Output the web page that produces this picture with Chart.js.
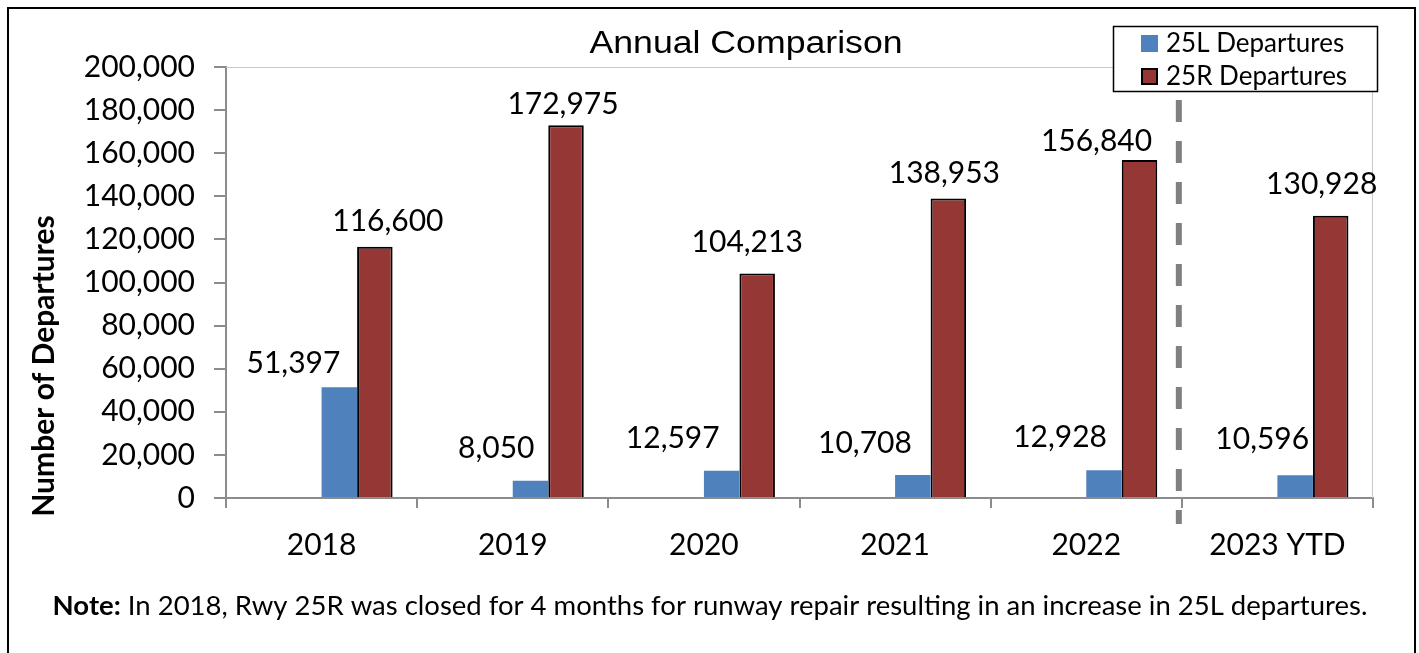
<!DOCTYPE html>
<html>
<head>
<meta charset="utf-8">
<script src="https://cdn.jsdelivr.net/npm/chart.js@4/dist/chart.umd.min.js"></script>
<style>
  html, body { margin: 0; padding: 0; background: #fff; }
  #wrap { position: relative; width: 1419px; height: 653px; overflow: hidden; }
</style>
</head>
<body>
<div id="wrap"><canvas id="chart" width="1419" height="653"></canvas></div>
<script>
const years = ['2018', '2019', '2020', '2021', '2022', '2023 YTD'];
const dep25L = [51397, 8050, 12597, 10708, 12928, 10596];
const dep25R = [116600, 172975, 104213, 138953, 156840, 130928];
const yMax = 200000;
const yStep = 20000;
const noteBold = 'Note:';
const noteText = ' In 2018, Rwy 25R was closed for 4 months for runway repair resulting in an increase in 25L departures.';

// labels were hand-placed in the original, so keep their nudges (px) apart from the data
const nudge25L = { dx: [1, 4, -2, -1, 3, 14], gap: [14, 23, 23, 22, 23, 26] };
const nudge25R = { dx: [13, -3, -10, -4, -43, -9], gap: [16, 11, 21, 16, 9, 22] };

const BLUE = '#4f81bd';
const RED = '#953735';
const AXIS_GRAY = '#8c8c8c';
const FONT = 'Lato, "Open Sans", sans-serif';

const fmt = v => Number(v).toLocaleString('en-US');

// Excel chart had two empty series ahead of these, which is why the bars sit right of centre
const emptySeries = years.map(() => null);

const decor = {
    id: 'decor',
    beforeDatasetsDraw(chart) {
        const { ctx, chartArea: a } = chart;
        ctx.save();
        // light frame on top and right of the plot
        ctx.strokeStyle = '#c8c8c8';
        ctx.lineWidth = 1;
        ctx.beginPath();
        ctx.moveTo(a.left, a.top + 0.5);
        ctx.lineTo(a.right - 0.5, a.top + 0.5);
        ctx.lineTo(a.right - 0.5, a.bottom);
        ctx.stroke();
        ctx.restore();
    },
    afterDatasetsDraw(chart) {
        const { ctx, scales } = chart;
        ctx.save();

        // dashed divider between 2022 and 2023 YTD
        const xDiv = (scales.x.getPixelForValue(4) + scales.x.getPixelForValue(5)) / 2 - 3;
        ctx.strokeStyle = '#808080';
        ctx.lineWidth = 6;
        ctx.setLineDash([22, 19]);
        ctx.beginPath();
        ctx.moveTo(xDiv, 100);
        ctx.lineTo(xDiv, 524);
        ctx.stroke();
        ctx.setLineDash([]);

        // data labels
        ctx.fillStyle = '#000';
        ctx.font = '30px ' + FONT;
        ctx.textBaseline = 'alphabetic';
        chart.getDatasetMeta(2).data.forEach((bar, i) => {
            ctx.textAlign = 'right';
            ctx.fillText(fmt(dep25L[i]), bar.x + nudge25L.dx[i], bar.y - nudge25L.gap[i]);
        });
        chart.getDatasetMeta(3).data.forEach((bar, i) => {
            ctx.textAlign = 'center';
            ctx.fillText(fmt(dep25R[i]), bar.x + nudge25R.dx[i], bar.y - nudge25R.gap[i]);
        });

        // title (Arial, slightly stretched like the original)
        ctx.save();
        ctx.translate(746, 53);
        ctx.scale(1.15, 1);
        ctx.font = '31px "Liberation Sans", Arial, sans-serif';
        ctx.textAlign = 'center';
        ctx.fillText('Annual Comparison', 0, 0);
        ctx.restore();

        // y-axis title
        ctx.save();
        ctx.translate(54, 366);
        ctx.rotate(-Math.PI / 2);
        ctx.font = 'bold 30px ' + FONT;
        ctx.textAlign = 'center';
        ctx.fillText('Number of Departures', 0, 0);
        ctx.restore();

        // legend box
        ctx.fillStyle = '#fff';
        ctx.fillRect(1113, 26, 265, 66);
        ctx.strokeStyle = '#000';
        ctx.lineWidth = 1.5;
        ctx.strokeRect(1113.5, 26.5, 264, 65);
        const items = [
            { text: '25L Departures', fill: chart.data.datasets[2].backgroundColor, border: null, y: 43 },
            { text: '25R Departures', fill: chart.data.datasets[3].backgroundColor, border: '#000', y: 76 }
        ];
        ctx.font = '26px ' + FONT;
        ctx.textAlign = 'left';
        ctx.textBaseline = 'middle';
        items.forEach(it => {
            ctx.fillStyle = it.fill;
            ctx.fillRect(1141, it.y - 8, 17, 17);
            if (it.border) {
                ctx.strokeStyle = it.border;
                ctx.lineWidth = 2;
                ctx.strokeRect(1142, it.y - 7, 15, 15);
            }
            ctx.fillStyle = '#000';
            ctx.fillText(it.text, 1166, it.y + 1);
        });

        // note under the chart
        ctx.textBaseline = 'alphabetic';
        ctx.font = 'bold 27.5px ' + FONT;
        const wB = ctx.measureText(noteBold).width;
        ctx.font = '27.5px ' + FONT;
        const wT = ctx.measureText(noteText).width;
        const nx = 710 - (wB + wT) / 2;
        ctx.font = 'bold 27.5px ' + FONT;
        ctx.fillText(noteBold, nx, 615);
        ctx.font = '27.5px ' + FONT;
        ctx.fillText(noteText, nx + wB, 615);

        // outer border
        ctx.strokeStyle = '#000';
        ctx.lineWidth = 2;
        ctx.strokeRect(8, 8, 1407, 700);

        ctx.restore();
    }
};

const ctx = document.getElementById('chart').getContext('2d');
const chart = new Chart(ctx, {
    type: 'bar',
    data: {
        labels: years,
        datasets: [
            { label: '', data: emptySeries, backgroundColor: 'rgba(0,0,0,0)' },
            { label: '', data: emptySeries, backgroundColor: 'rgba(0,0,0,0)' },
            { label: '25L Departures', data: dep25L, backgroundColor: BLUE, borderWidth: 0 },
            { label: '25R Departures', data: dep25R, backgroundColor: RED, borderColor: '#000', borderWidth: 2 }
        ]
    },
    options: {
        responsive: false,
        animation: false,
        events: [],
        layout: { padding: { top: 67, right: 46, bottom: 0, left: 0 } },
        datasets: { bar: { categoryPercentage: 0.743, barPercentage: 1 } },
        plugins: { legend: { display: false }, tooltip: { enabled: false } },
        scales: {
            x: {
                offset: true,
                grid: { offset: true, drawOnChartArea: false, drawTicks: true, tickLength: 10, color: AXIS_GRAY, lineWidth: 2 },
                border: { color: AXIS_GRAY, width: 2 },
                ticks: { color: '#000', font: { family: FONT, size: 30 }, padding: 19, maxRotation: 0 },
                afterFit: s => { s.height = 155; }
            },
            y: {
                min: 0,
                max: yMax,
                grid: { drawOnChartArea: false, drawTicks: true, tickLength: 12, color: AXIS_GRAY, lineWidth: 2 },
                border: { color: AXIS_GRAY, width: 2 },
                ticks: { stepSize: yStep, color: '#000', font: { family: FONT, size: 30 }, padding: 19, callback: v => fmt(v) },
                afterFit: s => { s.width = 226; }
            }
        }
    },
    plugins: [decor]
});
</script>
</body>
</html>
